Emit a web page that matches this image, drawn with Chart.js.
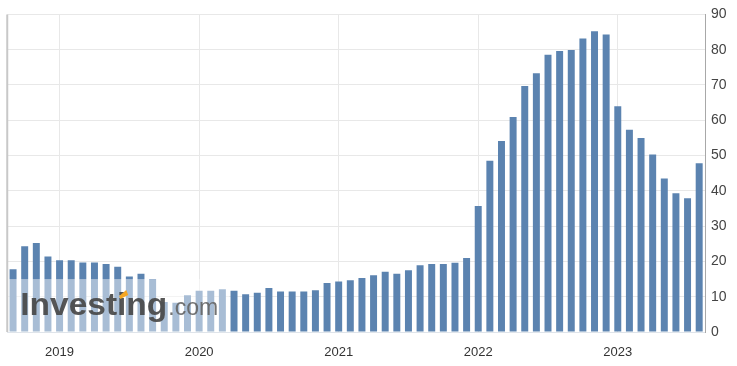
<!DOCTYPE html>
<html>
<head>
<meta charset="utf-8">
<script src="https://cdn.jsdelivr.net/npm/chart.js@4.4.1/dist/chart.umd.min.js"></script>
<style>
  html, body { margin: 0; padding: 0; background: #fff; }
  #wrap { width: 737px; height: 366px; }
</style>
</head>
<body>
<div id="wrap"><canvas id="chart"></canvas></div>
<script>
var months = ["Jan", "Feb", "Mar", "Apr", "May", "Jun", "Jul", "Aug", "Sep", "Oct", "Nov", "Dec"];

// Sep 2018 .. Aug 2023, monthly
var categories = [];
for (var y = 2018; y <= 2023; y++) {
  for (var m = 0; m < 12; m++) {
    if (y === 2018 && m < 8) continue;
    if (y === 2023 && m > 7) continue;
    categories.push(months[m] + " " + y);
  }
}

var values = [
  17.8, 24.3, 25.2, 21.4,
  20.3, 20.3, 19.7, 19.7, 19.3, 18.5, 15.7, 16.5, 15.0, 8.5, 8.3, 10.4,
  11.7, 11.7, 12.1, 11.7, 10.7, 11.1, 12.5, 11.5, 11.5, 11.5, 11.8, 13.9,
  14.3, 14.7, 15.3, 16.1, 17.1, 16.5, 17.5, 18.9, 19.3, 19.3, 19.6, 21.0,
  35.7, 48.5, 54.1, 60.9, 69.7, 73.3, 78.6, 79.6, 79.9, 83.2, 85.2, 84.3,
  64.0, 57.3, 55.0, 50.3, 43.5, 39.3, 37.9, 47.8
];

var yTicks = [0, 10, 20, 30, 40, 50, 60, 70, 80, 90];

var barColor = "#5b83b0";
var fontFamily = "'Liberation Sans', Arial, sans-serif";

// left frame line + Investing.com watermark
var watermark = {
  id: "watermark",
  afterDatasetsDraw: function (chart) {
    var ctx = chart.ctx;
    var area = chart.chartArea;
    var ys = chart.scales.y;
    var top = ys.getPixelForValue(15);
    ctx.save();
    ctx.fillStyle = "rgba(255,255,255,0.47)";
    ctx.fillRect(area.left, top, 222, area.bottom - top);

    // stretch the word to the logo's width
    ctx.font = "bold 31px " + fontFamily;
    var w = ctx.measureText("Investing").width;
    ctx.save();
    ctx.translate(area.left + 13, area.bottom - 17);
    ctx.scale(147 / w, 1);
    ctx.fillStyle = "rgba(72,72,72,0.92)";
    ctx.fillText("Investing", 0, 0);
    ctx.restore();

    ctx.fillStyle = "rgba(100,100,100,0.9)";
    ctx.font = "23px " + fontFamily;
    ctx.fillText(".com", area.left + 161, area.bottom - 17);

    // orange tick on the i
    ctx.fillStyle = "#f5a623";
    ctx.beginPath();
    ctx.moveTo(area.left + 112, area.bottom - 36);
    ctx.lineTo(area.left + 119, area.bottom - 42);
    ctx.lineTo(area.left + 121, area.bottom - 37);
    ctx.lineTo(area.left + 113, area.bottom - 33);
    ctx.closePath();
    ctx.fill();

    ctx.strokeStyle = "#c8c8c8";
    ctx.lineWidth = 2;
    ctx.beginPath();
    ctx.moveTo(area.left, area.top);
    ctx.lineTo(area.left, area.bottom);
    ctx.stroke();
    ctx.restore();
  }
};

new Chart("chart", {
  type: "bar",
  data: {
    labels: categories,
    datasets: [{
      label: "Value",
      data: values,
      backgroundColor: barColor,
      borderWidth: 0,
      barPercentage: 0.6,
      categoryPercentage: 1.0
    }]
  },
  options: {
    responsive: true,
    maintainAspectRatio: false,
    animation: false,
    layout: {
      padding: { left: 7, right: 0, top: 13, bottom: 0 }
    },
    plugins: {
      legend: { display: false },
      tooltip: { enabled: false }
    },
    scales: {
      x: {
        offset: true,
        grid: {
          offset: false,
          drawTicks: false,
          color: function (c) {
            var l = categories[c.index];
            return l && l.indexOf("Jan") === 0 ? "#e8e8e8" : "rgba(0,0,0,0)";
          }
        },
        border: { color: "#dfe4ea" },
        ticks: {
          autoSkip: false,
          maxRotation: 0,
          padding: 13,
          color: "#333",
          font: { family: fontFamily, size: 13 },
          callback: function (value) {
            var l = this.getLabelForValue(value);
            return l.indexOf("Jan") === 0 ? l.slice(4) : "";
          }
        },
        afterFit: function (scale) { scale.height = 34; }
      },
      y: {
        position: "right",
        min: 0,
        max: 90,
        afterBuildTicks: function (scale) {
          scale.ticks = yTicks.map(function (v) { return { value: v }; });
        },
        grid: { color: "#e8e8e8", drawTicks: false },
        border: { color: "#a8a8a8", width: 1 },
        ticks: {
          padding: 6,
          color: "#444",
          font: { family: fontFamily, size: 14 }
        },
        afterFit: function (scale) { scale.width = 32; }
      }
    }
  },
  plugins: [watermark]
});
</script>
</body>
</html>
